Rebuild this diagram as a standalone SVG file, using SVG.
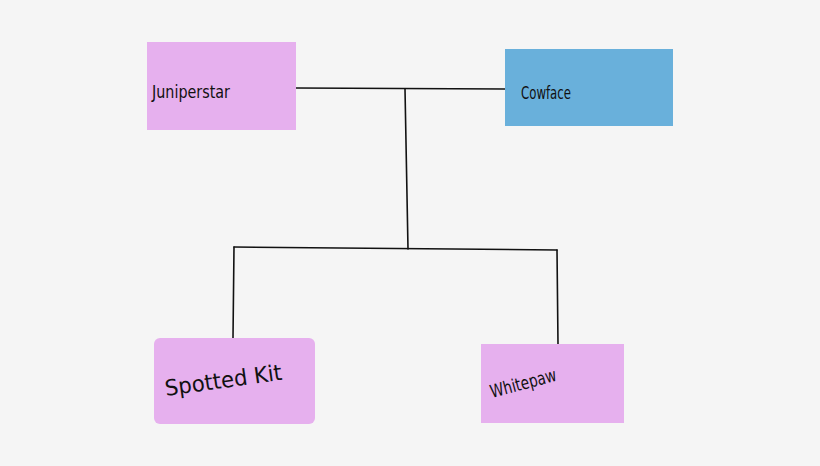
<svg xmlns="http://www.w3.org/2000/svg" width="820" height="466" viewBox="0 0 820 466">
<style>
.pink{fill:#e6b0ee}
.blue{fill:#69b0db}
.lbl{font-family:"DejaVu Sans","Liberation Sans",sans-serif;fill:#111}
.ln{stroke:#111;stroke-width:1.6;fill:none;stroke-linecap:round}
</style>
<rect width="820" height="466" fill="#f5f5f5"/>
<g id="connectors">
<path class="ln" d="M296 88 L505 89"/>
<path class="ln" d="M405 89 L408 249"/>
<path class="ln" d="M234 247 L557 250"/>
<path class="ln" d="M234 247 L233 338"/>
<path class="ln" d="M557 250 L558 344"/>
</g>
<g id="juniperstar">
<rect class="pink" x="147" y="42" width="149" height="88"/>
<text class="lbl" x="152" y="98" font-size="18" textLength="78" lengthAdjust="spacingAndGlyphs">Juniperstar</text>
</g>
<g id="cowface">
<rect class="blue" x="505" y="49" width="168" height="77"/>
<text class="lbl" x="521" y="99" font-size="17" textLength="50" lengthAdjust="spacingAndGlyphs">Cowface</text>
</g>
<g id="spottedkit">
<rect class="pink" x="154" y="338" width="161" height="86" rx="6"/>
<text class="lbl" transform="rotate(-8 166 396)" x="166" y="396" font-size="22" textLength="118" lengthAdjust="spacingAndGlyphs">Spotted Kit</text>
</g>
<g id="whitepaw">
<rect class="pink" x="481" y="344" width="143" height="79"/>
<text class="lbl" transform="rotate(-15 492 398)" x="492" y="398" font-size="18" textLength="68" lengthAdjust="spacingAndGlyphs">Whitepaw</text>
</g>
</svg>
